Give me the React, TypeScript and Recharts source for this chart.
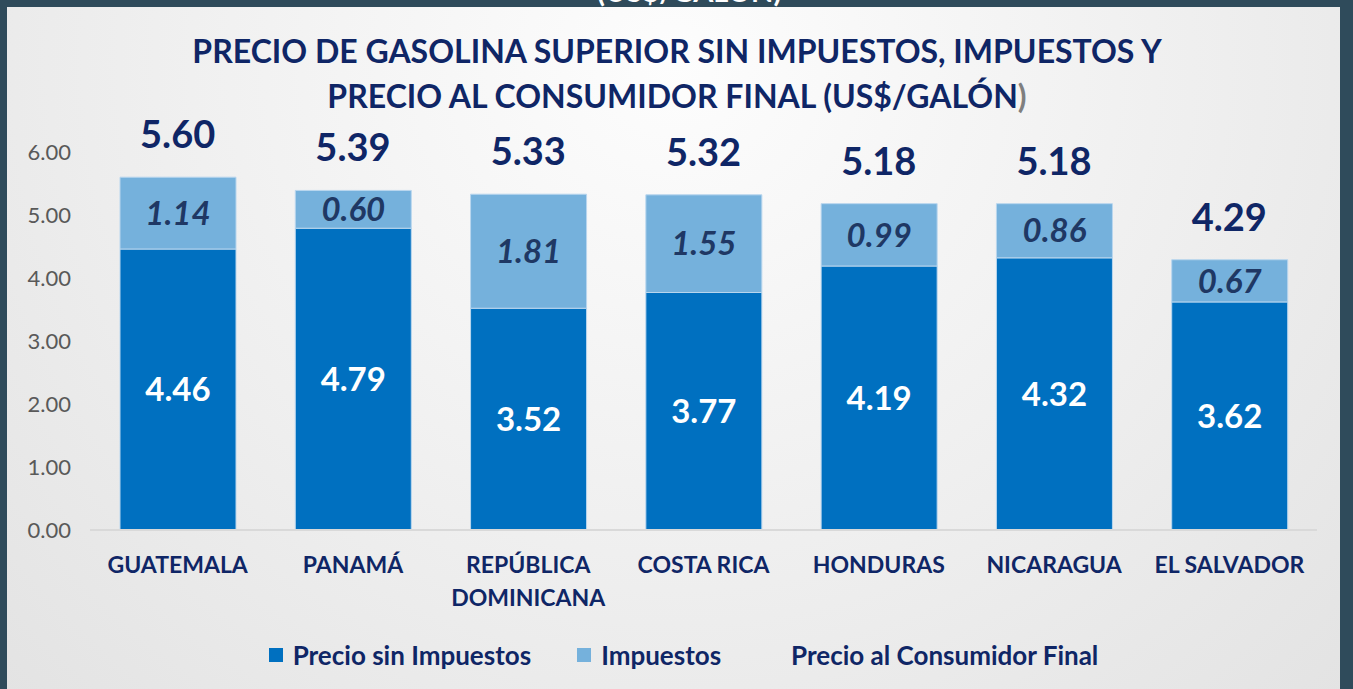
import React from 'react';
import { ComposedChart, Bar, Line, XAxis, YAxis, LabelList } from 'recharts';

const paises = ['GUATEMALA', 'PANAMÁ', 'REPÚBLICA DOMINICANA', 'COSTA RICA', 'HONDURAS', 'NICARAGUA', 'EL SALVADOR'];
const precioSinImpuestos = [4.46, 4.79, 3.52, 3.77, 4.19, 4.32, 3.62];
const impuestos = [1.14, 0.6, 1.81, 1.55, 0.99, 0.86, 0.67];
const precioFinal = [5.6, 5.39, 5.33, 5.32, 5.18, 5.18, 4.29];
const yTicks = [0, 1, 2, 3, 4, 5, 6];

const NAVY = '#0f2666';
const DARK_BLUE = '#0070c0';
const LIGHT_BLUE = '#75b1dc';
const FONT = 'Lato, "Open Sans", sans-serif';

const data = paises.map((pais, i) => ({
  pais,
  sinImp: precioSinImpuestos[i],
  imp: impuestos[i],
  final: precioFinal[i],
}));

// country names longer than one line get split on spaces
const CountryTick = (props: any) => {
  const { x, y, payload } = props;
  const label: string = payload.value;
  const lines = label.length > 14 ? label.split(' ') : [label];
  return (
    <g transform={`translate(${x},${y})`}>
      {lines.map((l, i) => (
        <text key={i} x={0} y={35 + i * 33} textAnchor="middle" fill={NAVY} fontFamily={FONT} fontWeight={700} fontSize={23}>
          {l}
        </text>
      ))}
    </g>
  );
};

const legendItems = [
  { name: 'Precio sin Impuestos', color: DARK_BLUE },
  { name: 'Impuestos', color: LIGHT_BLUE },
  { name: 'Precio al Consumidor Final', color: 'transparent' },
];

const App: React.FC = () => {
  return (
    <div style={{ position: 'fixed', left: 0, top: 0, width: 1353, height: 689, background: '#2f4b5b', overflow: 'hidden' }}>
      <div style={{ position: 'absolute', left: 597, top: -27, color: '#ffffff', fontFamily: FONT, fontWeight: 700, fontSize: 29 }}>
        (US$/GALÓN)
      </div>
      <div
        style={{
          position: 'absolute',
          left: 7,
          top: 7,
          width: 1333,
          height: 690,
          background: 'radial-gradient(ellipse at 50% 8%, #fdfdfd 0%, #efefef 55%, #e3e3e3 100%)',
        }}
      >
        <div
          style={{
            position: 'absolute',
            left: 0,
            top: 21,
            width: 1340,
            textAlign: 'center',
            color: NAVY,
            fontFamily: FONT,
            fontWeight: 700,
            fontSize: 32,
            lineHeight: '45px',
          }}
        >
          PRECIO DE GASOLINA SUPERIOR SIN IMPUESTOS, IMPUESTOS Y
          <br />
          PRECIO AL CONSUMIDOR FINAL (US$/GALÓN<span style={{ color: '#7f7f7f' }}>)</span>
        </div>

        <ComposedChart width={1333} height={682} data={data} margin={{ top: 145, right: 23, left: 0, bottom: 99 }}>
          <XAxis
            dataKey="pais"
            height={60}
            tickLine={false}
            axisLine={{ stroke: '#d9d9d9', strokeWidth: 2 }}
            tick={<CountryTick />}
            interval={0}
          />
          <YAxis
            width={83}
            domain={[0, 6]}
            ticks={yTicks}
            tickFormatter={(v: number) => v.toFixed(2)}
            axisLine={false}
            tickLine={false}
            tickSize={0}
            tickMargin={19}
            tick={{ fill: '#595959', fontSize: 22, fontFamily: FONT }}
          />
          <Bar dataKey="sinImp" stackId="a" fill={DARK_BLUE} stroke="#b9d6ee" strokeWidth={1} barSize={116} isAnimationActive={false}>
            <LabelList dataKey="sinImp" position="center" fill="#ffffff" fontFamily={FONT} fontWeight={700} fontSize={33} formatter={(v: any) => Number(v).toFixed(2)} />
          </Bar>
          <Bar dataKey="imp" stackId="a" fill={LIGHT_BLUE} stroke="#b9d6ee" strokeWidth={1} barSize={116} isAnimationActive={false}>
            <LabelList dataKey="imp" position="center" fill="#1f3864" fontFamily={FONT} fontWeight={700} fontStyle="italic" fontSize={33} formatter={(v: any) => Number(v).toFixed(2)} />
          </Bar>
          <Line dataKey="final" stroke="none" dot={false} activeDot={false} isAnimationActive={false}>
            <LabelList dataKey="final" position="top" offset={29} fill={NAVY} fontFamily={FONT} fontWeight={700} fontSize={38} formatter={(v: any) => Number(v).toFixed(2)} />
          </Line>
        </ComposedChart>

        <div
          style={{
            position: 'absolute',
            left: 0,
            top: 632,
            width: 1353,
            display: 'flex',
            justifyContent: 'center',
            gap: 46,
            fontFamily: FONT,
            fontWeight: 700,
            fontSize: 26,
            color: NAVY,
          }}
        >
          {legendItems.map((it) => (
            <div key={it.name} style={{ display: 'flex', alignItems: 'center', gap: 10 }}>
              <span style={{ width: 14, height: 14, background: it.color, display: 'inline-block' }} />
              <span>{it.name}</span>
            </div>
          ))}
        </div>
      </div>
    </div>
  );
};

export default App;
